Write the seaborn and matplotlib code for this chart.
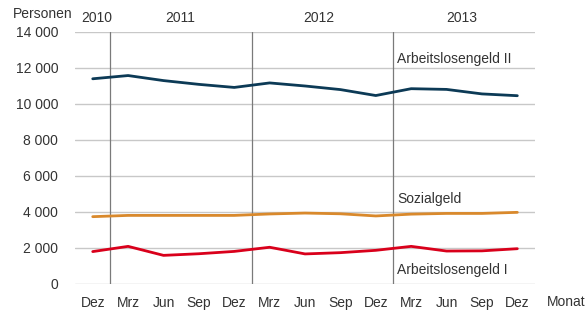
import numpy as np
import pandas as pd
import seaborn as sns
import matplotlib.pyplot as plt
from matplotlib.ticker import FuncFormatter

months = ["Dez", "Mrz", "Jun", "Sep", "Dez", "Mrz", "Jun", "Sep", "Dez", "Mrz", "Jun", "Sep", "Dez"]
years = ["2010", "2011", "2012", "2013"]
alg2 = [11400, 11580, 11300, 11090, 10920, 11170, 11000, 10800, 10470, 10850, 10810, 10560, 10460]
sozialgeld = [3740, 3810, 3810, 3810, 3810, 3890, 3940, 3900, 3780, 3880, 3920, 3920, 3980]
alg1 = [1800, 2090, 1590, 1680, 1810, 2040, 1670, 1740, 1870, 2090, 1830, 1840, 1960]
series_names = ["Arbeitslosengeld II", "Sozialgeld", "Arbeitslosengeld I"]
colors = ["#0c3a56", "#d9892c", "#d9001b"]

x = np.arange(len(months))
df = pd.DataFrame({
    "x": np.tile(x, 3),
    "wert": alg2 + sozialgeld + alg1,
    "reihe": np.repeat(series_names, len(months)),
})

sns.set_style("white")
plt.rcParams["font.family"] = ["Liberation Sans", "DejaVu Sans"]
text_col = "#333333"
fs = 10

fig = plt.figure(figsize=(5.88, 3.13), dpi=100)
ax = fig.add_axes([0.1276, 0.0927, 0.7823, 0.8051])

for y in range(0, 14001, 2000):
    ax.axhline(y, color="#c8c8c8", lw=1, zorder=0)
for xb in [0.5, 4.5, 8.5]:
    ax.axvline(xb, color="#7a7a7a", lw=0.9, zorder=1)

sns.lineplot(data=df, x="x", y="wert", hue="reihe", palette=colors,
             hue_order=series_names, lw=2, legend=False, ax=ax, zorder=3)

ax.set_xlim(-0.5, 12.5)
ax.set_ylim(0, 14000)
ax.set_xticks(x)
ax.set_xticklabels(months)
ax.set_yticks(range(0, 14001, 2000))
ax.yaxis.set_major_formatter(FuncFormatter(lambda v, p: f"{int(v):,}".replace(",", " ")))
ax.tick_params(axis="both", length=0, labelsize=fs, colors=text_col)
ax.tick_params(axis="x", pad=9)
ax.tick_params(axis="y", pad=12)
ax.set_xlabel("")
ax.set_ylabel("")
sns.despine(ax=ax, left=True, bottom=True, top=True, right=True)

# year labels
for xp, yr in zip([0.12, 2.47, 6.38, 10.43], years):
    ax.text(xp, 14780, yr, ha="center", va="center", fontsize=fs, color=text_col)
ax.text(-1.41, 15000, "Personen", ha="center", va="center", fontsize=fs, color=text_col)
ax.text(13.37, -1000, "Monat", ha="center", va="center", fontsize=fs, color=text_col)

# series labels
ax.text(8.6, 12500, "Arbeitslosengeld II", fontsize=fs, color=text_col, va="center")
ax.text(8.6, 4720, "Sozialgeld", fontsize=fs, color=text_col, va="center")
ax.text(8.6, 780, "Arbeitslosengeld I", fontsize=fs, color=text_col, va="center")

for t in ax.texts:
    t.set_clip_on(False)

fig.savefig("out.png", dpi=100)
